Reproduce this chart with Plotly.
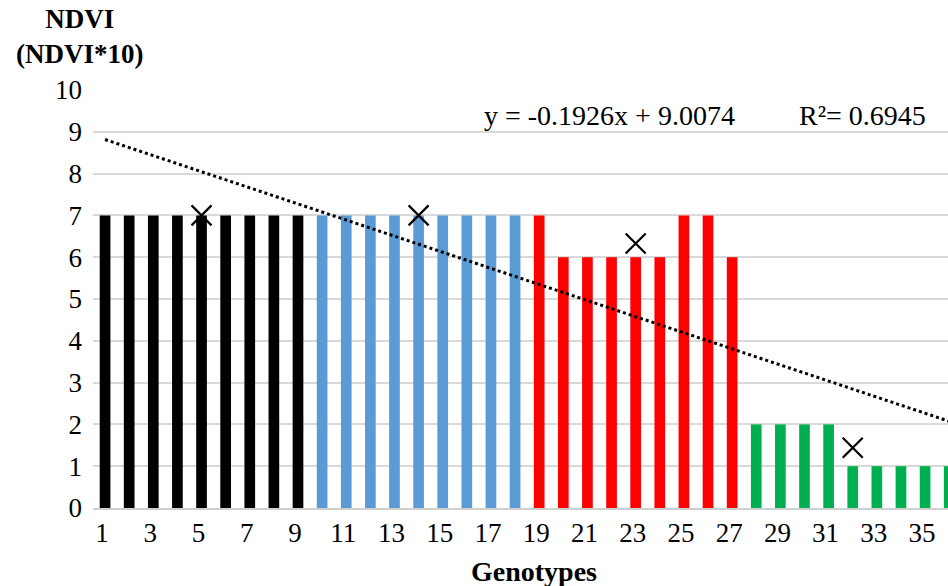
import plotly.graph_objects as go

genotypes = list(range(1, 37))
ndvi = [7, 7, 7, 7, 7, 7, 7, 7, 7,
        7, 7, 7, 7, 7, 7, 7, 7, 7,
        7, 6, 6, 6, 6, 6, 7, 7, 6,
        2, 2, 2, 2, 1, 1, 1, 1, 1]
groups = ["A"] * 9 + ["B"] * 9 + ["C"] * 9 + ["D"] * 9
group_colors = {"A": "#000000", "B": "#5B9BD5", "C": "#FF0000", "D": "#00B050"}

mean_x = [5, 14, 23, 32]
mean_y = [7, 7, 6.33, 1.44]

trend_x = [1, 36]
trend_y = [8.815, 2.074]

tick_vals = list(range(1, 36, 2))
tick_text = [str(v) for v in tick_vals]

FONT = "Liberation Serif, Times New Roman, serif"

fig = go.Figure()
fig.add_trace(go.Bar(
    x=genotypes, y=ndvi,
    marker=dict(color=[group_colors[g] for g in groups], line=dict(width=0)),
    showlegend=False,
))
fig.add_trace(go.Scatter(
    x=trend_x, y=trend_y, mode="lines",
    line=dict(color="black", width=3, dash="dot"),
    showlegend=False,
))
fig.add_trace(go.Scatter(
    x=mean_x, y=mean_y, mode="markers",
    marker=dict(symbol="x-thin-open", size=20, line=dict(color="black", width=2.2), color="black"),
    showlegend=False,
))

W, H = 948, 586
L, R, T, B = 93, 0, 90, 78

def px(xp):
    return (xp - L) / (W - L - R)

def py(yp):
    return (H - B - yp) / (H - T - B)

fig.update_layout(
    width=W, height=H,
    margin=dict(l=L, r=R, t=T, b=B, pad=0),
    plot_bgcolor="white", paper_bgcolor="white",
    bargap=0.557,
    font=dict(family=FONT, size=27, color="black"),
    xaxis=dict(
        range=[0.5, 35.95], tickmode="array", tickvals=tick_vals, ticktext=tick_text,
        showgrid=False, zeroline=False, showline=True, linecolor="#d0d0d0", linewidth=2,
        ticks="", tickfont=dict(family=FONT, size=27, color="black"),
        ticklabelstandoff=0, ticklabelshift=-3,
    ),
    yaxis=dict(
        range=[0, 10], tickmode="array", tickvals=list(range(0, 11)),
        showgrid=True, gridcolor="#d9d9d9", gridwidth=2, zeroline=False,
        showline=False, ticks="", tickfont=dict(family=FONT, size=27, color="black"),
        ticklabelstandoff=10,
    ),
    annotations=[
        dict(text="<b>NDVI</b><br><b>(NDVI*10)</b>", xref="paper", yref="paper",
             x=px(80), y=py(37), xanchor="center", yanchor="middle", showarrow=False,
             font=dict(family=FONT, size=27, color="black"), align="center"),
        dict(text="<b>Genotypes</b>", xref="paper", yref="paper",
             x=px(534), y=py(571), xanchor="center", yanchor="middle", showarrow=False,
             font=dict(family=FONT, size=28, color="black")),
        dict(text="y = -0.1926x + 9.0074", xref="paper", yref="paper",
             x=px(482), y=py(115), xanchor="left", yanchor="middle", showarrow=False,
             font=dict(family=FONT, size=28, color="black")),
        dict(text="R²= 0.6945", xref="paper", yref="paper",
             x=px(797), y=py(115), xanchor="left", yanchor="middle", showarrow=False,
             font=dict(family=FONT, size=28, color="black")),
    ],
)

fig.write_html("out.html")
